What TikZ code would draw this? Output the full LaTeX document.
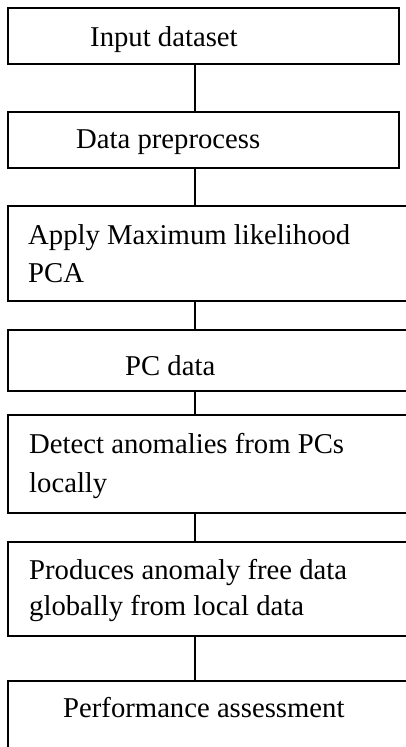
\documentclass[tikz,border=0pt]{standalone}
\usepackage{fontspec}
\setmainfont{Liberation Serif}
\usetikzlibrary{positioning}
\tikzset{
  stepbox/.style={rectangle, draw=black, line width=2pt, inner sep=0pt, minimum width=391pt},
  openbox/.style={stepbox, minimum width=420pt},
  steptext/.style={anchor=base west, inner sep=0pt, align=left, font=\fontsize{28.7}{37.5}\selectfont},
  link/.style={line width=2pt, black}
}
\begin{document}
\begin{tikzpicture}[x=1pt, y=-1pt]
  \useasboundingbox (0,0) rectangle (406,747);
  \clip (0,0) rectangle (406,747);
  \node[stepbox, minimum height=56pt] (input) at (203.5,36) {};
  \node[stepbox, minimum height=56pt] (prep)  at (203.5,140) {};
  \node[openbox, minimum height=95pt] (mlpca) at (218,253.5) {};
  \node[openbox, minimum height=61pt] (pcd)   at (218,360.5) {};
  \node[openbox, minimum height=98pt] (detect) at (218,464) {};
  \node[openbox, minimum height=94pt] (free)  at (218,589) {};
  \node[openbox, minimum height=89pt] (perf)  at (218,725.5) {};
  \node[steptext] (inputtxt)  at (90,46)  {Input dataset};
  \node[steptext] (preptxt)   at (76,148) {Data preprocess};
  \node[steptext] (mlpcatxt)  at (28,282) {Apply Maximum likelihood\\PCA};
  \node[steptext] (pcdtxt)    at (125,375) {PC data};
  \node[steptext] (detecttxt) at (29,492) {Detect anomalies from PCs\\[1.5pt]locally};
  \node[steptext] (freetxt)   at (29,615) {Produces anomaly free data\\[-1.5pt]globally from local data};
  \node[steptext] (perftxt)   at (63,717) {Performance assessment};
  \coordinate (spine) at (194.5,0);
  \draw[link] (input.south -| spine)  -- (prep.north -| spine);
  \draw[link] (prep.south -| spine)   -- (mlpca.north -| spine);
  \draw[link] (mlpca.south -| spine)  -- (pcd.north -| spine);
  \draw[link] (pcd.south -| spine)    -- (detect.north -| spine);
  \draw[link] (detect.south -| spine) -- (free.north -| spine);
  \draw[link] (free.south -| spine)   -- (perf.north -| spine);
\end{tikzpicture}
\end{document}
